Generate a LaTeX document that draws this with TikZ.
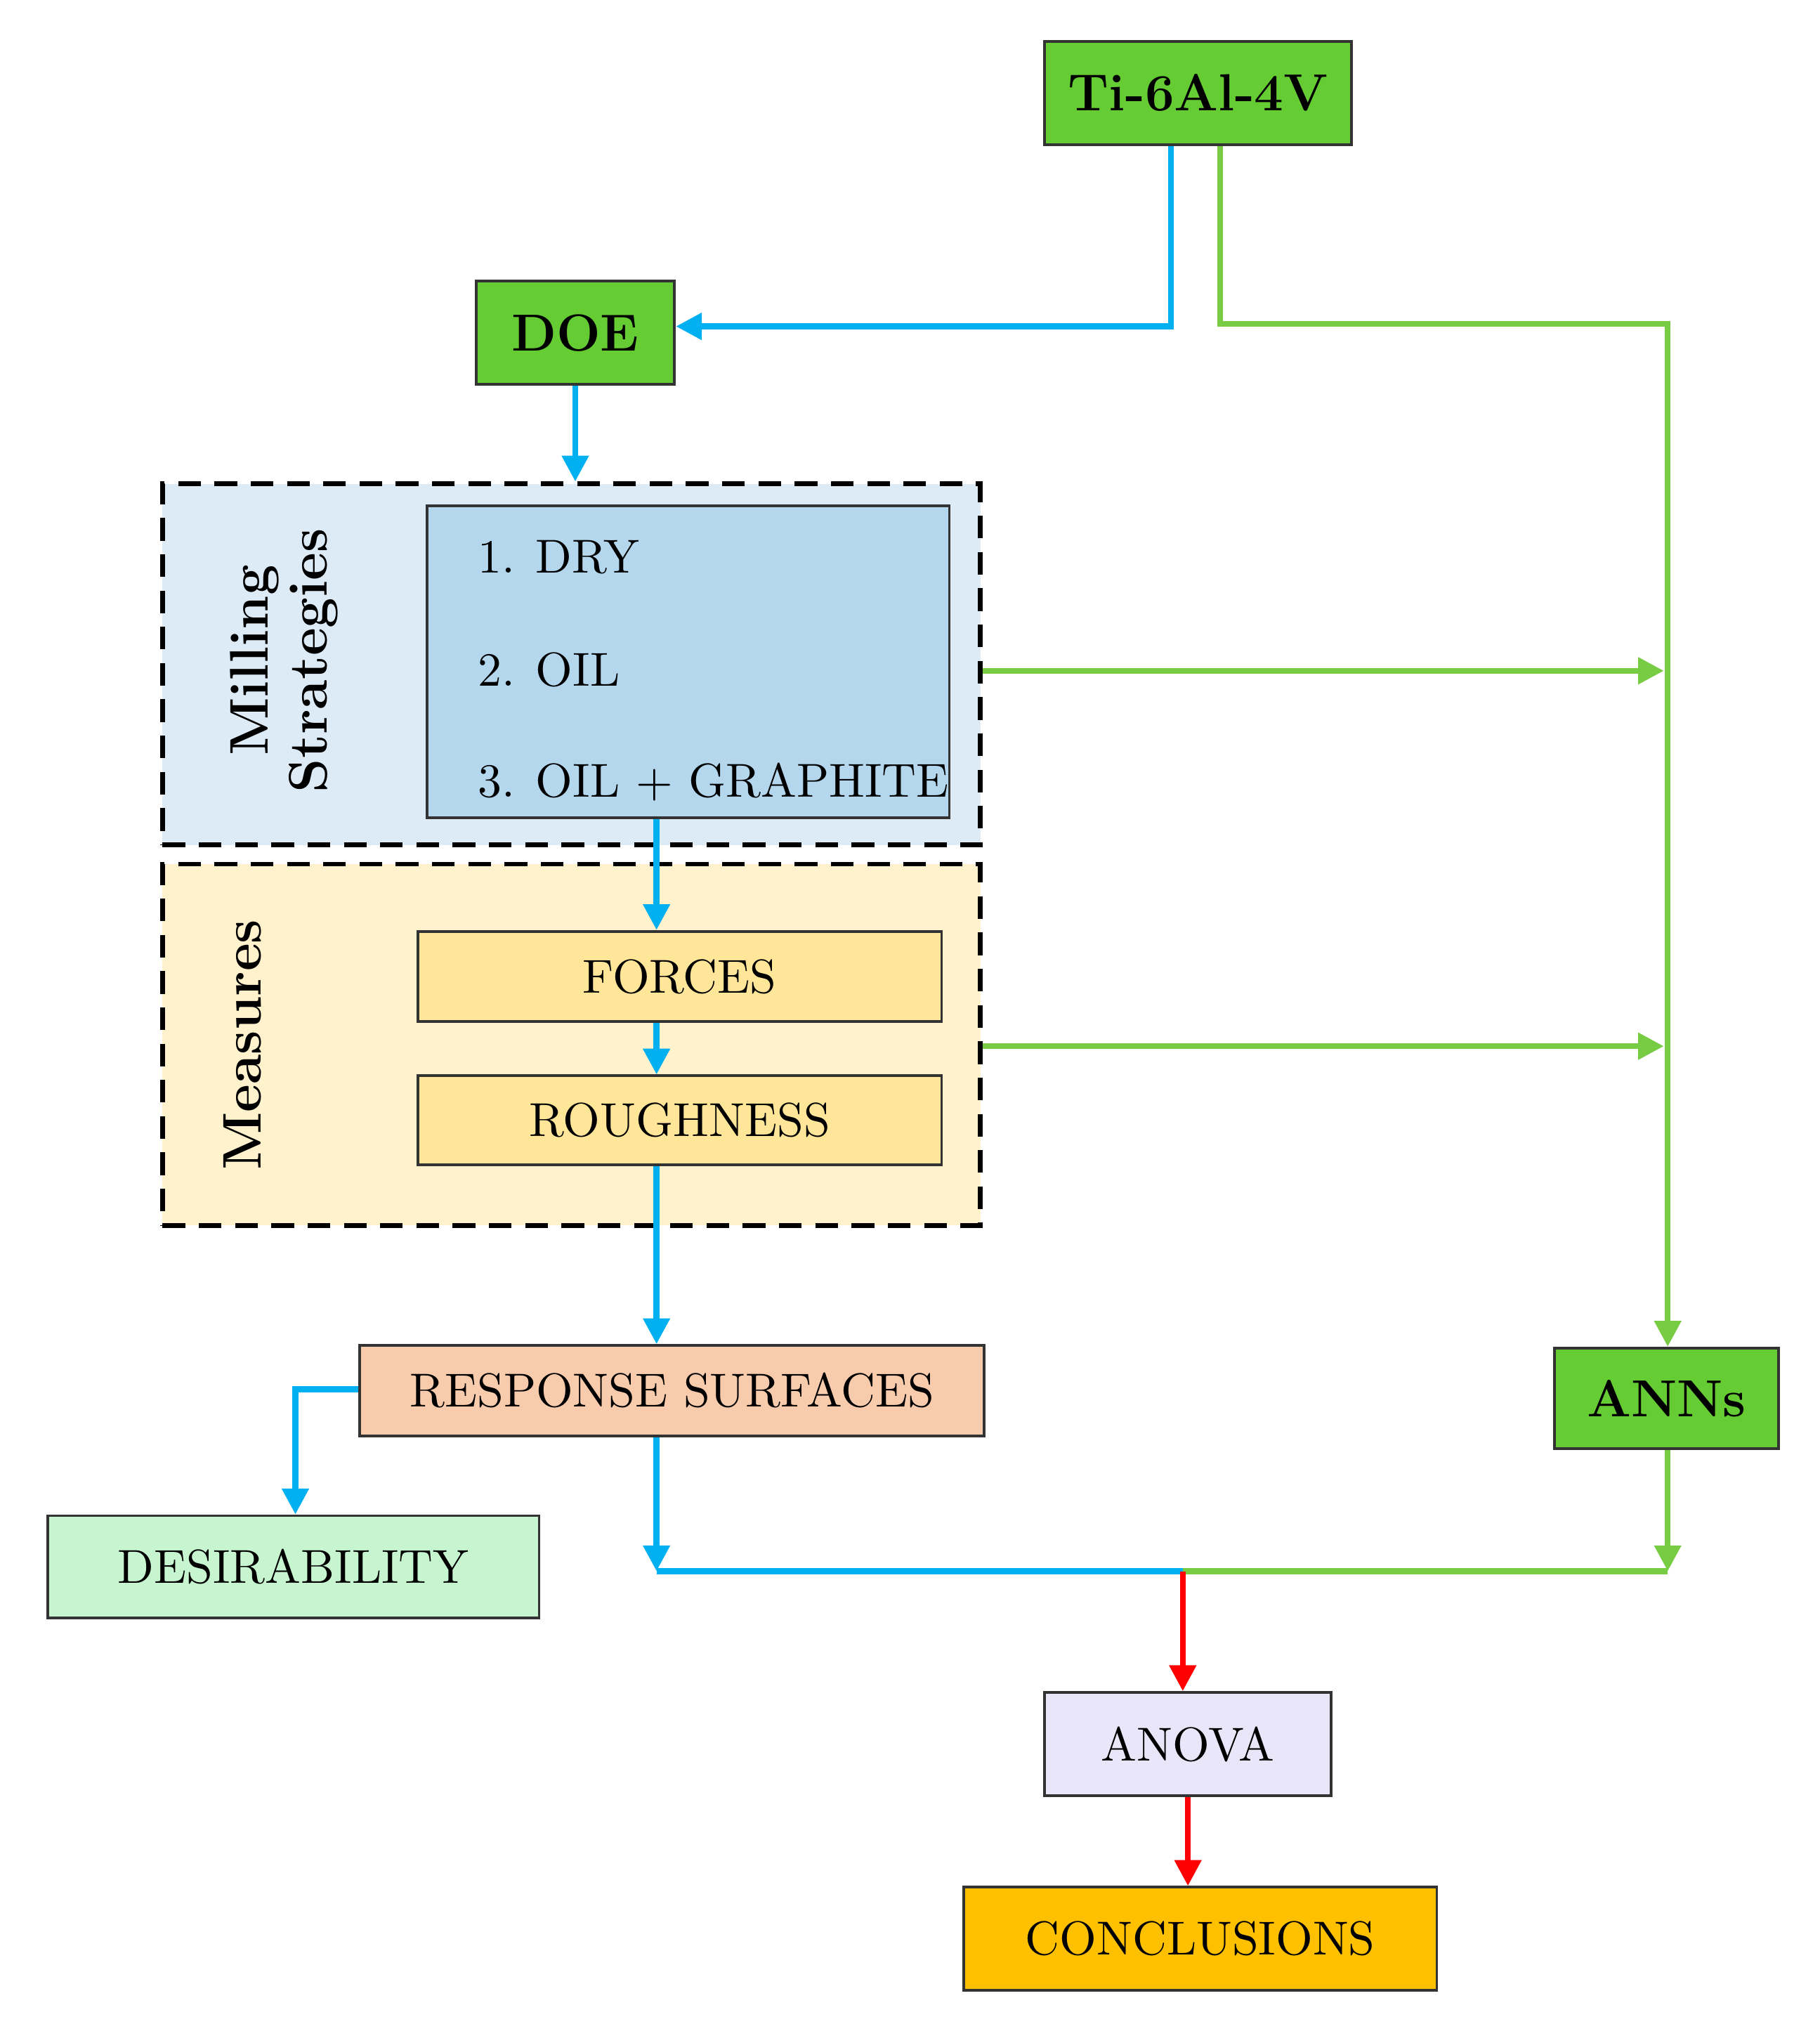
\documentclass[tikz,border=0pt]{standalone}
\usetikzlibrary{arrows.meta}
\definecolor{gbox}{HTML}{66CC33}
\definecolor{bl}{HTML}{00B0F0}
\definecolor{gl}{HTML}{77CC44}
\begin{document}
\begin{tikzpicture}[x=0.1mm,y=-0.1mm,
 box/.style={draw=black!80,line width=0.6pt,inner sep=0pt,font=\fontsize{10.5}{12}\selectfont},
 gb/.style={box,fill=gbox,font=\fontsize{11.5}{13}\selectfont\bfseries},
 outer/.style={draw=black,dashed,dash pattern=on 5pt off 3pt,line width=1pt,inner sep=0pt},
 ba/.style={draw=bl,line width=1.3pt,-{Triangle[length=2mm,width=2mm]}},
 ga/.style={draw=gl,line width=1.3pt,-{Triangle[length=2mm,width=2mm]}},
 ra/.style={draw=red,line width=1.3pt,-{Triangle[length=2mm,width=2mm]}},
 rot/.style={rotate=90,font=\fontsize{12}{13}\selectfont\bfseries,align=center}]
\useasboundingbox (0,0) rectangle (1411,1569);
\node[gb,minimum width=23.8mm,minimum height=8mm] (ti) at (929,72) {Ti-6Al-4V};
\node[gb,minimum width=15.4mm,minimum height=8mm] (doe) at (446,258) {DOE};
\node[outer,fill=blue!20!cyan!8!white,fill={rgb,255:red,221;green,235;blue,247},minimum width=63.4mm,minimum height=28mm] (mill) at (443,515) {};
\node[box,fill={rgb,255:red,180;green,215;blue,238},minimum width=40.5mm,minimum height=24.2mm] (strat) at (533.5,513) {};
\node[anchor=west,font=\fontsize{10.5}{12}\selectfont] (s1) at (358,432) {1. DRY};
\node[anchor=west,font=\fontsize{10.5}{12}\selectfont] (s2) at (358,519) {2. OIL};
\node[anchor=west,font=\fontsize{10.5}{12}\selectfont] (s3) at (358,606) {3. OIL + GRAPHITE};
\node[rot] (ml) at (220,512) {Milling\\Strategies};
\node[outer,fill={rgb,255:red,255;green,242;blue,204},minimum width=63.4mm,minimum height=28mm] (meas) at (443,810) {};
\node[rot] (ms) at (188,810) {Measures};
\node[box,fill={rgb,255:red,255;green,230;blue,153},minimum width=40.6mm,minimum height=7mm] (for) at (527,757) {FORCES};
\node[box,fill={rgb,255:red,255;green,230;blue,153},minimum width=40.6mm,minimum height=6.9mm] (rough) at (527,868.5) {ROUGHNESS};
\node[box,fill={rgb,255:red,248;green,203;blue,173},minimum width=48.4mm,minimum height=7mm] (rs) at (521,1078) {RESPONSE SURFACES};
\node[box,fill={rgb,255:red,198;green,245;blue,208},minimum width=38.1mm,minimum height=7.9mm] (des) at (227.5,1214.5) {DESIRABILITY};
\node[gb,minimum width=17.4mm,minimum height=7.8mm] (ann) at (1292,1084) {ANNs};
\node[box,fill={rgb,255:red,232;green,230;blue,248},minimum width=22.2mm,minimum height=8mm] (anova) at (921,1352) {ANOVA};
\node[box,fill={rgb,255:red,255;green,192;blue,0},minimum width=36.7mm,minimum height=8mm] (conc) at (930.5,1503) {CONCLUSIONS};
\coordinate (b1) at (908,253);
\coordinate (g1) at (946,251);
\coordinate (g2) at (1293,251);
\coordinate (m1) at (1290,520);
\coordinate (m2) at (1290,811);
\coordinate (rsb) at (509,1218);
\coordinate (jn) at (917,1218);
\coordinate (ab) at (1293,1218);
\coordinate (rl) at (229,1077);
% blue
\draw[ba] (ti.south -| b1) -- (b1) -- (doe.east |- b1);
\draw[ba] (doe.south) -- (mill.north -| doe.south);
\draw[ba] (strat.south -| rsb) -- (for.north -| rsb);
\draw[ba] (for.south -| rsb) -- (rough.north -| rsb);
\draw[ba] (rough.south -| rsb) -- (rs.north -| rsb);
\draw[ba] (rs.west |- rl) -- (rl) -- (des.north -| rl);
\draw[ba] (rs.south -| rsb) -- (rsb);
\draw[draw=bl,line width=1.3pt] (rsb) -- (jn);
% green
\draw[ga] (ti.south -| g1) -- (g1) -- (g2) -- (ann.north -| g2);
\draw[ga] (mill.east |- m1) -- (m1);
\draw[ga] (meas.east |- m2) -- (m2);
\draw[ga] (ann.south -| ab) -- (ab);
\draw[draw=gl,line width=1.3pt] (jn) -- (ab);
% red
\draw[ra] (jn) -- (anova.north -| jn);
\draw[ra] (anova.south) -- (conc.north -| anova.south);
\end{tikzpicture}
\end{document}
